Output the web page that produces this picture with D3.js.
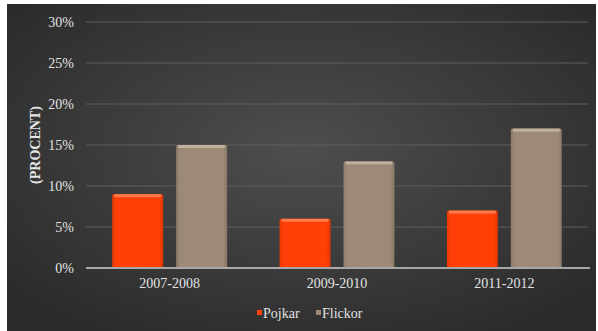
<!DOCTYPE html>
<html>
<head>
<meta charset="utf-8">
<script src="https://cdn.jsdelivr.net/npm/d3@7"></script>
<style>
  body { margin: 0; background: #fff; }
  svg { display: block; }
  svg text { font-family: "Liberation Serif", "DejaVu Serif", serif; }
</style>
</head>
<body>
<svg width="598" height="331"></svg>
<script>
const categories = ["2007-2008", "2009-2010", "2011-2012"];
const series = ["Pojkar", "Flickor"];
const pojkar = [9, 6, 7];
const flickor = [15, 13, 17];
const yTicks = [0, 5, 10, 15, 20, 25, 30];

const colors = { Pojkar: "#ff3f05", Flickor: "#9c8a76" };
const tops = { Pojkar: "#ff8a5c", Flickor: "#cbbcab" };
const serif = "'Liberation Serif', 'DejaVu Serif', serif";

const svg = d3.select("svg");
const plot = { left: 86, right: 588, top: 22, bottom: 268 };

const defs = svg.append("defs");
const bg = defs.append("radialGradient").attr("id", "bg")
    .attr("cx", "50%").attr("cy", "45%").attr("r", "65%");
bg.append("stop").attr("offset", "0%").attr("stop-color", "#4e4e4e");
bg.append("stop").attr("offset", "100%").attr("stop-color", "#2b2b2b");

series.forEach(s => {
  const g = defs.append("linearGradient").attr("id", "bar-" + s)
      .attr("x1", 0).attr("x2", 1).attr("y1", 0).attr("y2", 0);
  g.append("stop").attr("offset", "0%").attr("stop-color", d3.color(colors[s]).darker(0.3));
  g.append("stop").attr("offset", "8%").attr("stop-color", colors[s]);
  g.append("stop").attr("offset", "92%").attr("stop-color", colors[s]);
  g.append("stop").attr("offset", "100%").attr("stop-color", d3.color(colors[s]).darker(0.4));
});

// background panel
svg.append("rect").attr("x", 7).attr("y", 4).attr("width", 589).attr("height", 327)
    .attr("fill", "url(#bg)");

const x0 = d3.scaleBand().domain(categories).range([plot.left, plot.right]);
const x1 = d3.scaleBand().domain(series).range([0, x0.bandwidth()])
    .paddingInner(0.203).paddingOuter(0.41);
const y = d3.scaleLinear().domain([0, 30]).range([plot.bottom, plot.top]);

// gridlines
svg.append("g").selectAll("line")
    .data(yTicks.filter(d => d > 0))
    .join("line")
    .attr("x1", plot.left).attr("x2", plot.right)
    .attr("y1", d => y(d)).attr("y2", d => y(d))
    .attr("stroke", "#5e5e5e").attr("stroke-width", 1);

// y axis labels
const yAxis = d3.axisLeft(y).tickValues(yTicks).tickFormat(d => d + "%").tickSize(0).tickPadding(12);
svg.append("g")
    .attr("transform", "translate(" + plot.left + ",0)")
    .call(yAxis)
    .attr("font-family", serif)
    .attr("font-size", 14)
    .call(g => g.select(".domain").remove())
    .selectAll("text")
    .attr("fill", "#e2e2e2");

// y title
svg.append("text")
    .attr("transform", "translate(40,145) rotate(-90)")
    .attr("text-anchor", "middle")
    .attr("fill", "#e6e6e6")
    .attr("font-family", serif)
    .attr("font-size", 14)
    .attr("font-weight", "bold")
    .text("(PROCENT)");

// bars
const data = categories.map((c, i) => ({ cat: c, Pojkar: pojkar[i], Flickor: flickor[i] }));
const groups = svg.append("g").selectAll("g")
    .data(data)
    .join("g")
    .attr("transform", d => "translate(" + x0(d.cat) + ",0)");

groups.selectAll("rect.bar")
    .data(d => series.map(s => ({ s, v: d[s] })))
    .join("rect")
    .attr("class", "bar")
    .attr("x", d => x1(d.s))
    .attr("y", d => y(d.v))
    .attr("width", x1.bandwidth())
    .attr("height", d => y(0) - y(d.v))
    .attr("rx", 1.5)
    .attr("fill", d => "url(#bar-" + d.s + ")");

groups.selectAll("rect.top")
    .data(d => series.map(s => ({ s, v: d[s] })))
    .join("rect")
    .attr("class", "top")
    .attr("x", d => x1(d.s) + 2)
    .attr("y", d => y(d.v))
    .attr("width", x1.bandwidth() - 4)
    .attr("height", 3)
    .attr("fill", d => tops[d.s])
    .attr("opacity", 0.8);

// baseline
svg.append("line")
    .attr("x1", plot.left).attr("x2", plot.right + 2)
    .attr("y1", y(0)).attr("y2", y(0))
    .attr("stroke", "#a8a8a8").attr("stroke-width", 2);

// x labels
const xAxis = d3.axisBottom(x0).tickSize(0).tickPadding(10);
svg.append("g")
    .attr("transform", "translate(0," + plot.bottom + ")")
    .call(xAxis)
    .attr("font-family", serif)
    .attr("font-size", 14)
    .call(g => g.select(".domain").remove())
    .selectAll("text")
    .attr("fill", "#e2e2e2");

// legend
const legend = svg.append("g").attr("transform", "translate(257,313)");
const items = [{ s: "Pojkar", x: 0 }, { s: "Flickor", x: 59 }];
items.forEach(it => {
  legend.append("rect")
      .attr("x", it.x).attr("y", -3).attr("width", 5).attr("height", 5)
      .attr("fill", colors[it.s]);
  legend.append("text")
      .attr("x", it.x + 6).attr("y", 0).attr("dy", "0.35em")
      .attr("fill", "#e2e2e2")
      .attr("font-family", serif)
      .attr("font-size", 14)
      .text(it.s);
});
</script>
</body>
</html>
